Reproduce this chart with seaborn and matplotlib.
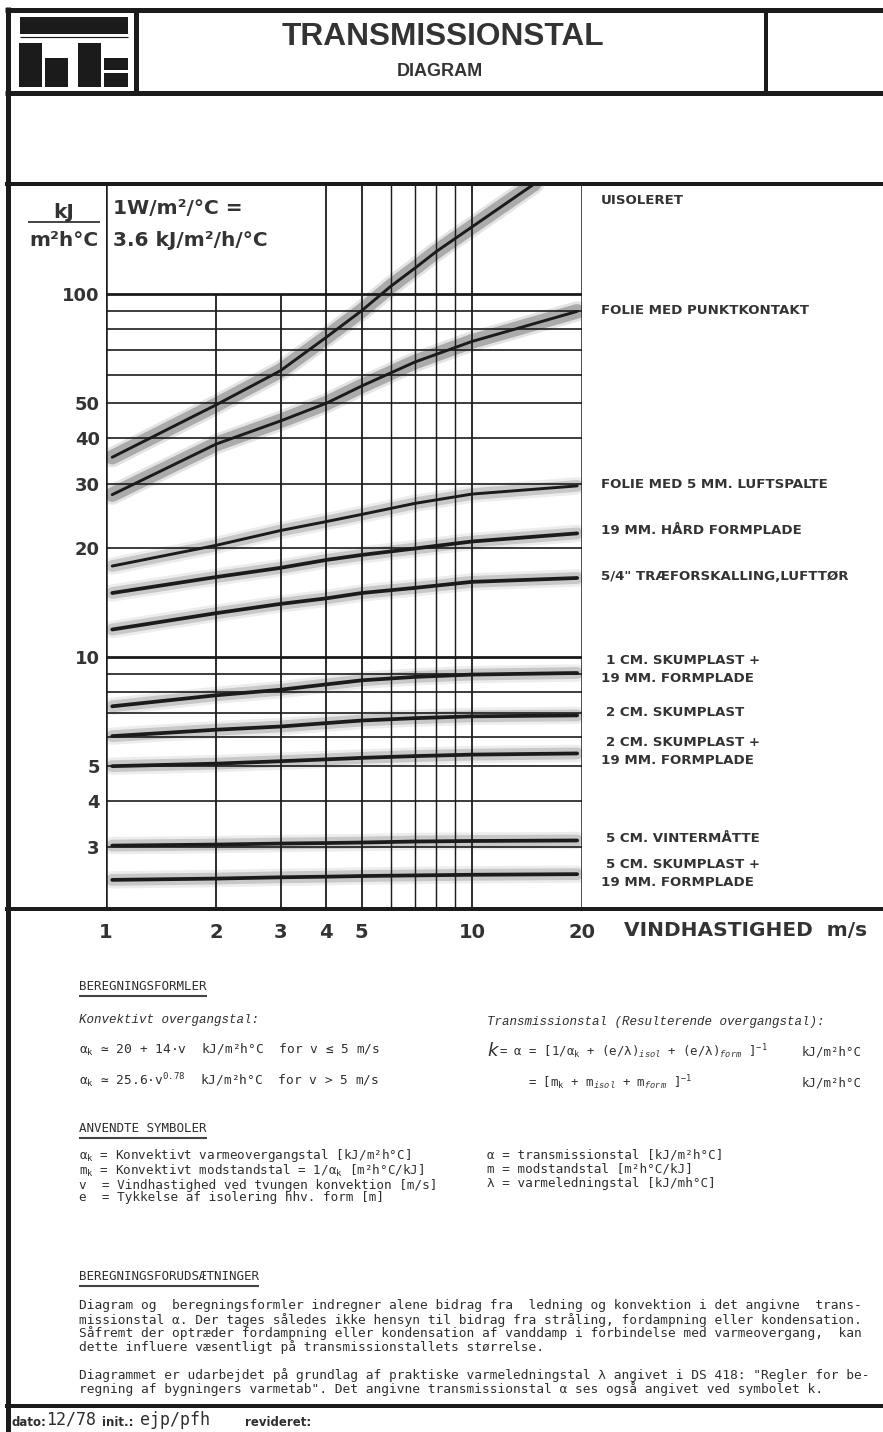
import numpy as np
import pandas as pd
import matplotlib
matplotlib.use("Agg")
import matplotlib.pyplot as plt
import seaborn as sns
from matplotlib.lines import Line2D
from matplotlib.patches import Rectangle
from matplotlib.ticker import NullLocator

# ---------------------------------------------------------------- data
# wind speed (m/s) at which the curves are sampled
speed = [1.04, 2, 3, 4, 5, 7, 10, 19.4]
speed_bare = [1.04, 2, 3, 4, 5, 6, 7, 8, 10, 14.8]

# transmission coefficient, kJ/m2h°C
uisoleret = [35.5, 49.5, 61.5, 76, 90, 105, 118, 131, 153, 201]
folie_punktkontakt = [28, 38.6, 44.7, 50, 55.8, 65, 74, 89.6]
folie_luftspalte = [17.8, 20.3, 22.3, 23.6, 24.7, 26.5, 28.1, 29.6]
haard_formplade = [15.0, 16.6, 17.6, 18.5, 19.1, 19.9, 20.8, 21.9]
traeforskalling = [11.9, 13.2, 14.0, 14.5, 15.0, 15.5, 16.1, 16.5]
skum1_formplade = [7.31, 7.84, 8.12, 8.40, 8.62, 8.81, 8.94, 9.03]
skum2 = [6.05, 6.30, 6.43, 6.57, 6.68, 6.78, 6.86, 6.90]
skum2_formplade = [5.00, 5.08, 5.16, 5.22, 5.27, 5.33, 5.38, 5.42]
vintermaatte = [3.02, 3.04, 3.06, 3.07, 3.08, 3.10, 3.11, 3.12]
skum5_formplade = [2.43, 2.45, 2.47, 2.48, 2.49, 2.50, 2.51, 2.52]

x_ticks = [1, 2, 3, 4, 5, 10, 20]
x_tick_labels = ["1", "2", "3", "4", "5", "10", "20"]
y_ticks = [3, 4, 5, 10, 20, 30, 40, 50, 100]
y_tick_labels = ["3", "4", "5", "10", "20", "30", "40", "50", "100"]

curve_names = ["uisoleret", "folie_punkt", "folie_luft", "haard", "trae",
               "skum1f", "skum2", "skum2f", "vinter", "skum5f"]
curve_values = [uisoleret, folie_punktkontakt, folie_luftspalte, haard_formplade,
                traeforskalling, skum1_formplade, skum2, skum2_formplade,
                vintermaatte, skum5_formplade]

rows = []
for name, vals in zip(curve_names, curve_values):
    xs = speed_bare if name == "uisoleret" else speed
    rows += [(name, v, a) for v, a in zip(xs, vals)]
df = pd.DataFrame(rows, columns=["kurve", "v", "k"])

# ---------------------------------------------------------------- styling
W, H = 883, 1432
INK = "#1b1b1b"
TXT = "#2e2e2e"

sns.set_theme(style="white")
plt.rcParams["font.family"] = ["DejaVu Sans"]
plt.rcParams["mathtext.fontset"] = "custom"
plt.rcParams["mathtext.rm"] = "DejaVu Sans Mono"
plt.rcParams["mathtext.it"] = "Liberation Mono:italic"
plt.rcParams["mathtext.default"] = "regular"

fig = plt.figure(figsize=(W / 100, H / 100), dpi=100)
fig.patch.set_facecolor("white")


def fx(x):
    return x / W


def fy(y):
    return 1 - y / H


def pt(px):
    return px * 0.72


def hline(y, x0, x1, px):
    fig.add_artist(Line2D([fx(x0), fx(x1)], [fy(y), fy(y)], color=INK,
                          lw=pt(px), solid_capstyle="butt"))


def vline(x, y0, y1, px):
    fig.add_artist(Line2D([fx(x), fx(x)], [fy(y0), fy(y1)], color=INK,
                          lw=pt(px), solid_capstyle="butt"))


# ---------------------------------------------------------------- page frame
vline(8, 7, H, 5)
hline(10, 5, W, 5)
vline(136, 10, 93, 5)
vline(766, 10, 93, 4)
hline(93, 5, W, 5)
hline(184, 5, W, 4)
hline(909, 5, W, 4)
hline(1406, 5, W, 4)

# logo
for (x0, y0, x1, y1) in [(20, 17, 128, 34), (19, 43, 42, 87), (45, 58, 68, 87),
                         (78, 43, 101, 87), (104, 58, 128, 70), (104, 73, 128, 87)]:
    fig.add_artist(Rectangle((fx(x0), fy(y1)), fx(x1 - x0), (y1 - y0) / H,
                             facecolor=INK, edgecolor="none"))
hline(37, 20, 128, 1.2)

fig.text(fx(443), fy(37), "TRANSMISSIONSTAL", ha="center", va="center",
         fontsize=22.8, fontweight="bold", family="Liberation Sans", color="#333333")
fig.text(fx(440), fy(72), "DIAGRAM", ha="center", va="center",
         fontsize=13, fontweight="bold", family="Liberation Sans", color="#333333")

# ---------------------------------------------------------------- chart
ax = fig.add_axes([fx(106), fy(909), (582 - 106) / W, (909 - 184) / H])
ax.set_xscale("log")
ax.set_yscale("log")
YMIN, YMAX = 2.02, 201
ax.set_xlim(1, 20)
ax.set_ylim(YMIN, YMAX)
for s in ax.spines.values():
    s.set_visible(False)
ax.set_facecolor("white")

# grid
for v in [2, 3]:
    ax.vlines(v, YMIN, 100, color=INK, lw=1.3, zorder=2)
for v in [4, 5, 10]:
    ax.vlines(v, YMIN, YMAX, color=INK, lw=1.3, zorder=2)
for v in [6, 7, 8, 9]:
    ax.vlines(v, YMIN, YMAX, color=INK, lw=1.05, zorder=2)
ax.vlines([1, 20], YMIN, YMAX, color=INK, lw=1.8, zorder=2)
for a in [3, 4, 5, 6, 7, 8, 9, 20, 30, 40, 50, 60, 70, 80, 90]:
    ax.hlines(a, 1, 20, color=INK, lw=1.2, zorder=2)
ax.hlines([10, 100], 1, 20, color=INK, lw=2.0, zorder=2)

# curves: soft grey band with a dark core line
band_color = {n: ("#858585" if n in ("uisoleret", "folie_punkt") else "#b0b0b0")
              for n in curve_names}
band_width = {n: (10.5 if n in ("uisoleret", "folie_punkt") else 8.5)
              for n in curve_names}
halo_width = {n: w + 4 for n, w in band_width.items()}
core_color = {n: INK for n in curve_names}
core_width = {n: (2.1 if n in ("uisoleret", "folie_punkt", "folie_luft") else 2.7)
              for n in curve_names}

sns.lineplot(data=df, x="v", y="k", hue="kurve", palette=band_color,
             size="kurve", sizes=halo_width, estimator=None, legend=False,
             ax=ax, alpha=0.22, zorder=1, solid_capstyle="round")
sns.lineplot(data=df, x="v", y="k", hue="kurve", palette=band_color,
             size="kurve", sizes=band_width, estimator=None, legend=False,
             ax=ax, alpha=0.6, zorder=1, solid_capstyle="round")
sns.lineplot(data=df, x="v", y="k", hue="kurve", palette=core_color,
             size="kurve", sizes=core_width, estimator=None, legend=False,
             ax=ax, zorder=3, solid_capstyle="round")

ax.set_xlabel("")
ax.set_ylabel("")
ax.set_xticks(x_ticks)
ax.set_xticklabels(x_tick_labels)
ax.set_yticks(y_ticks)
ax.set_yticklabels(y_tick_labels)
ax.xaxis.set_minor_locator(NullLocator())
ax.yaxis.set_minor_locator(NullLocator())
ax.tick_params(axis="x", length=0, pad=10)
ax.tick_params(axis="y", length=0, pad=4.5)
for lab in ax.get_xticklabels():
    lab.set_fontsize(14)
    lab.set_fontweight("bold")
    lab.set_color("#333333")
for lab in ax.get_yticklabels():
    lab.set_fontsize(13)
    lab.set_fontweight("bold")
    lab.set_color("#333333")

fig.text(fx(624), fy(931), "VINDHASTIGHED  m/s", ha="left", va="center",
         fontsize=14.5, fontweight="bold", color="#333333")

# unit label and conversion note
fig.text(fx(64), fy(212), "kJ", ha="center", va="center", fontsize=14.5,
         fontweight="bold", color="#333333")
hline(222, 28, 100, 1.6)
fig.text(fx(64), fy(240), "m²h°C", ha="center", va="center", fontsize=14.5,
         fontweight="bold", color="#333333")
fig.text(fx(113), fy(209), "1W/m²/°C =", ha="left", va="center", fontsize=14.5,
         fontweight="bold", color="#333333")
fig.text(fx(113), fy(240), "3.6 kJ/m²/h/°C", ha="left", va="center", fontsize=14.5,
         fontweight="bold", color="#333333")

# curve captions
captions = [
    (601, 201, "UISOLERET"),
    (601, 311, "FOLIE MED PUNKTKONTAKT"),
    (601, 484, "FOLIE MED 5 MM. LUFTSPALTE"),
    (601, 531, "19 MM. HÅRD FORMPLADE"),
    (601, 577, "5/4\" TRÆFORSKALLING,LUFTTØR"),
    (606, 660, "1 CM. SKUMPLAST +"),
    (601, 679, "19 MM. FORMPLADE"),
    (606, 712, "2 CM. SKUMPLAST"),
    (606, 742, "2 CM. SKUMPLAST +"),
    (601, 761, "19 MM. FORMPLADE"),
    (606, 838, "5 CM. VINTERMÅTTE"),
    (606, 864, "5 CM. SKUMPLAST +"),
    (601, 882, "19 MM. FORMPLADE"),
]
for x, y, s in captions:
    fig.text(fx(x), fy(y), s, ha="left", va="center", fontsize=9.6,
             fontweight="bold", color="#333333")

# ---------------------------------------------------------------- text blocks
MONO = ["DejaVu Sans Mono", "DejaVu Sans"]
ITAL = ["Liberation Mono", "DejaVu Sans Mono"]
FS = 9.3
L = 79
R = 487


def mono(x, y, s, **kw):
    opts = dict(ha="left", va="center", fontsize=FS, family=MONO, color=TXT)
    opts.update(kw)
    return fig.text(fx(x), fy(y), s, **opts)


headings = []
headings.append(mono(L, 987, "BEREGNINGSFORMLER", fontsize=9.0))
mono(L, 1020, "Konvektivt overgangstal:", family=ITAL, style="italic", fontsize=9.0)
mono(L, 1050, "α$_k$ ≃ 20 + 14·v  kJ/m²h°C  for v ≤ 5 m/s")
mono(L, 1081, "α$_k$ ≃ 25.6·v$^{0.78}$  kJ/m²h°C  for v > 5 m/s")

mono(R, 1022, "Transmissionstal (Resulterende overgangstal):", family=ITAL,
     style="italic", fontsize=9.0)
mono(487, 1051, "k", fontsize=13, family=["DejaVu Sans"], style="italic")
mono(499, 1052, "= α = [1/α$_k$ + (e/λ)$_{\\mathit{isol}}$ + (e/λ)$_{\\mathit{form}}$ ]$^{-1}$",
     fontsize=8.9)
mono(528, 1083, "= [m$_k$ + m$_{\\mathit{isol}}$ + m$_{\\mathit{form}}$ ]$^{-1}$",
     fontsize=8.9)
mono(862, 1052, "kJ/m²h°C", ha="right", fontsize=8.9)
mono(862, 1083, "kJ/m²h°C", ha="right", fontsize=8.9)

headings.append(mono(L, 1129, "ANVENDTE SYMBOLER", fontsize=9.0))
sym_left = [
    "α$_k$ = Konvektivt varmeovergangstal [kJ/m²h°C]",
    "m$_k$ = Konvektivt modstandstal = 1/α$_k$ [m²h°C/kJ]",
    "v  = Vindhastighed ved tvungen konvektion [m/s]",
    "e  = Tykkelse af isolering hhv. form [m]",
]
sym_right = [
    "α = transmissionstal [kJ/m²h°C]",
    "m = modstandstal [m²h°C/kJ]",
    "λ = varmeledningstal [kJ/mh°C]",
]
# each symbol column is one multi-line block
mono(L, 1147, "\n".join(sym_left), fontsize=9.1, va="top", linespacing=0.93)
mono(R, 1149, "\n".join(sym_right), fontsize=9.1, va="top", linespacing=1.08)

headings.append(mono(L, 1277, "BEREGNINGSFORUDSÆTNINGER", fontsize=9.0))
para = [
    (1306, "Diagram og  beregningsformler indregner alene bidrag fra  ledning og konvektion i det angivne  trans-"),
    (1320, "missionstal α. Der tages således ikke hensyn til bidrag fra stråling, fordampning eller kondensation."),
    (1333, "Såfremt der optræder fordampning eller kondensation af vanddamp i forbindelse med varmeovergang,  kan"),
    (1347, "dette influere væsentligt på transmissionstallets størrelse."),
    (1375, "Diagrammet er udarbejdet på grundlag af praktiske varmeledningstal λ angivet i DS 418: \"Regler for be-"),
    (1389, "regning af bygningers varmetab\". Det angivne transmissionstal α ses også angivet ved symbolet k."),
]
for y, s in para:
    mono(L, y, s, fontsize=9.3)

# underline the section headings
fig.canvas.draw()
rend = fig.canvas.get_renderer()
for t in headings:
    bb = t.get_window_extent(rend)
    ybase = bb.y0 - 2.5
    fig.add_artist(Line2D([bb.x0 / W, bb.x1 / W], [ybase / H, ybase / H],
                          color="#444444", lw=1.5, solid_capstyle="butt"))

# ---------------------------------------------------------------- footer
fig.text(fx(12), fy(1423), "dato:", ha="left", va="center", fontsize=8.5,
         fontweight="bold", color=TXT)
fig.text(fx(46), fy(1420), "12/78", ha="left", va="center", fontsize=12,
         family=MONO, color=TXT)
fig.text(fx(102), fy(1423), "init.:", ha="left", va="center", fontsize=8.5,
         fontweight="bold", color=TXT)
fig.text(fx(140), fy(1420), "ejp/pfh", ha="left", va="center", fontsize=12,
         family=MONO, color=TXT)
fig.text(fx(245), fy(1423), "revideret:", ha="left", va="center", fontsize=8.5,
         fontweight="bold", color=TXT)

fig.savefig("out.png", dpi=100, facecolor="white")
